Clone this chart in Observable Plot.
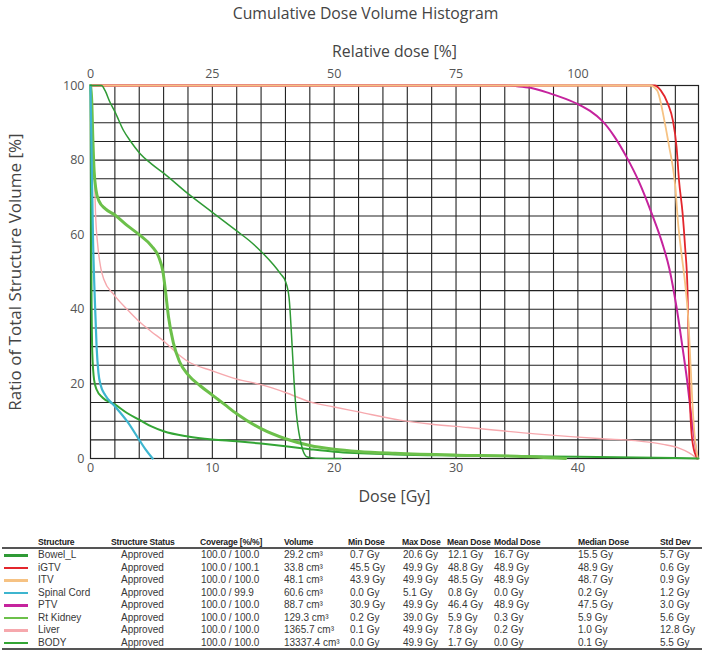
<!DOCTYPE html>
<html>
<head>
<meta charset="utf-8">
<script src="https://cdn.jsdelivr.net/npm/d3@7"></script>
<script src="https://cdn.jsdelivr.net/npm/@observablehq/plot@0.6"></script>
<style>
  html, body { margin: 0; padding: 0; background: #fff; }
  #wrap { position: relative; width: 712px; height: 651px; overflow: hidden; }
  #chart { position: absolute; left: 0; top: 0; }
  .cell { position: absolute; white-space: nowrap; font-family: "Liberation Sans", Arial, sans-serif; font-size: 10px; color: #383838; line-height: 12px; }
  .hdr { font-weight: bold; font-size: 8.6px; letter-spacing: -0.2px; color: #222; }
  .rule { position: absolute; left: 2px; width: 700px; height: 2px; background: #555; }
  .sw { position: absolute; left: 4px; width: 24px; height: 2.5px; }
</style>
</head>
<body>
<div id="wrap"><div id="chart"></div></div>
<script>
// ---------------- data ----------------
const chartTitle = "Cumulative Dose Volume Histogram";
const xLabel = "Dose [Gy]";
const topLabel = "Relative dose [%]";
const yLabel = "Ratio of Total Structure Volume [%]";

const doseTicks = [0, 10, 20, 30, 40];
const relTicks = [0, 25, 50, 75, 100];
const volTicks = [0, 20, 40, 60, 80, 100];
const prescriptionGy = 40;
const doseGrid = [2, 4, 6, 8, 10, 12, 14, 16, 18, 20, 22, 24, 26, 28, 30, 32, 34, 36, 38, 40, 42, 44, 46, 48];
const volGrid = [5, 10, 15, 20, 25, 30, 35, 40, 45, 50, 55, 60, 65, 70, 75, 80, 85, 90, 95];

// DVH curves: [dose Gy, volume %]
const bowelL = [[0,100],[0.9,100],[1.2,98.6],[1.6,95.5],[2,93],[2.7,88],[3.3,85],[4,82],[5,79],[6,76.5],[8,71],[10,66],[12,61],[13,58.5],[14,55.5],[15,52],[15.6,49.5],[16,47.5],[16.3,43],[16.5,33],[16.7,21],[16.9,12],[17.1,7],[17.4,2.5],[17.8,0.4],[18.5,0.1],[20.6,0]];
const iGTV = [[0,100],[46.3,100],[46.8,98.7],[47.4,95],[47.8,90.6],[48.1,83.5],[48.3,74.6],[48.6,65.6],[48.8,56.7],[49.0,45],[49.1,28],[49.25,11],[49.45,3.5],[49.8,0]];
const ITV = [[0,100],[45.9,100],[46.5,98.7],[47.1,90.6],[47.5,83.5],[47.8,78],[48,72.8],[48.2,64],[48.5,55],[48.8,47],[49.05,38],[49.25,25],[49.45,12],[49.65,4],[49.85,0]];
const spinalCord = [[0,100],[0.1,80],[0.2,60],[0.35,43],[0.5,30],[0.65,23],[0.85,19.5],[1.2,17],[2,14],[3,10],[4,5],[4.5,2.5],[5.1,0]];
const PTV = [[0,100],[34,100],[35,99.8],[36.1,99.4],[37.7,97.9],[39,96.4],[40,95],[41,93.2],[42,90.5],[43,86.3],[44,80.8],[45,74.3],[46,66.2],[46.9,58],[47.5,51],[48.1,40.5],[48.6,29.5],[49,20],[49.3,11.5],[49.6,4.5],[49.8,0]];
const rtKidney = [[0,100],[0.1,96],[0.2,85],[0.3,77],[0.45,72],[0.7,69],[1.2,67],[2,65.3],[3,62.5],[4,60],[5,57],[5.6,54],[5.95,50],[6.15,45],[6.4,38],[6.8,31],[7.3,26],[8,22.5],[9,19.5],[10,17],[11,14.5],[12,12],[14,8],[16,5.3],[18,3.5],[20,2.5],[22,1.9],[25,1.4],[30,0.9],[35,0.6],[39,0]];
const liver = [[0,100],[0.1,92],[0.2,84],[0.33,75],[0.41,66],[0.6,57],[0.85,51],[1.1,48],[1.9,44],[3,40],[4,36.7],[5,34],[6,31.5],[7,28.5],[8,26],[10,23.5],[12,21.3],[14,19.8],[16,17.7],[18,15.2],[20,13.8],[22,12.5],[25.4,10.3],[28,9.2],[31,8.3],[36.5,6.6],[42,5.3],[44.7,4.8],[47,3.8],[48.3,2.8],[49.1,1.6],[49.8,0]];
const body = [[0,100],[0.04,70],[0.08,45],[0.15,28],[0.3,21],[0.5,18.5],[1,16.3],[2,14.5],[3,12.2],[4,10.4],[5,8.6],[6,7.3],[8,5.9],[10,5.1],[12,4.6],[14,4],[16,3.3],[18,2.5],[20,1.8],[25,1.1],[30,0.8],[40,0.5],[49.9,0]];

// table
const structures = ["Bowel_L", "iGTV", "ITV", "Spinal Cord", "PTV", "Rt Kidney", "Liver", "BODY"];
const colors = ["#2f9a35", "#e3262c", "#f6c283", "#3db5cf", "#c5239d", "#6cc04a", "#f6a8ad", "#33a535"];
const status = ["Approved", "Approved", "Approved", "Approved", "Approved", "Approved", "Approved", "Approved"];
const coverage = ["100.0 / 100.0", "100.0 / 100.1", "100.0 / 100.0", "100.0 / 99.9", "100.0 / 100.0", "100.0 / 100.0", "100.0 / 100.0", "100.0 / 100.0"];
const volume = ["29.2 cm³", "33.8 cm³", "48.1 cm³", "60.6 cm³", "88.7 cm³", "129.3 cm³", "1365.7 cm³", "13337.4 cm³"];
const minDose = ["0.7 Gy", "45.5 Gy", "43.9 Gy", "0.0 Gy", "30.9 Gy", "0.2 Gy", "0.1 Gy", "0.0 Gy"];
const maxDose = ["20.6 Gy", "49.9 Gy", "49.9 Gy", "5.1 Gy", "49.9 Gy", "39.0 Gy", "49.9 Gy", "49.9 Gy"];
const meanDose = ["12.1 Gy", "48.8 Gy", "48.5 Gy", "0.8 Gy", "46.4 Gy", "5.9 Gy", "7.8 Gy", "1.7 Gy"];
const modalDose = ["16.7 Gy", "48.9 Gy", "48.9 Gy", "0.0 Gy", "48.9 Gy", "0.3 Gy", "0.2 Gy", "0.0 Gy"];
const medianDose = ["15.5 Gy", "48.9 Gy", "48.7 Gy", "0.2 Gy", "47.5 Gy", "5.9 Gy", "1.0 Gy", "0.1 Gy"];
const stdDev = ["5.7 Gy", "0.6 Gy", "0.9 Gy", "1.2 Gy", "3.0 Gy", "5.6 Gy", "12.8 Gy", "5.5 Gy"];
const headers = ["Structure", "Structure Status", "Coverage [%/%]", "Volume", "Min Dose", "Max Dose", "Mean Dose", "Modal Dose", "Median Dose", "Std Dev"];

// ---------------- chart ----------------
const curveSets = [
  {data: liver, color: colors[6], w: 1.4},
  {data: PTV, color: colors[4], w: 2},
  {data: iGTV, color: colors[1], w: 1.8},
  {data: ITV, color: colors[2], w: 1.8},
  {data: body, color: colors[7], w: 2},
  {data: rtKidney, color: colors[5], w: 3},
  {data: spinalCord, color: colors[3], w: 2.2},
  {data: bowelL, color: colors[0], w: 1.5}
];

const chart = Plot.plot({
  width: 712,
  height: 520,
  marginTop: 85,
  marginLeft: 90,
  marginRight: 14,
  marginBottom: 62,
  style: {fontFamily: "'Open Sans', sans-serif", fontSize: "12.5px", color: "#4a4a4a", background: "#fff"},
  x: {domain: [0, 49.9], label: null},
  y: {domain: [0, 100], label: null},
  marks: [
    Plot.gridX(doseGrid, {stroke: "#222", strokeOpacity: 1, strokeWidth: 1.1}),
    Plot.gridY(volGrid, {stroke: "#222", strokeOpacity: 1, strokeWidth: 1.1}),
    Plot.frame({stroke: "#222", strokeWidth: 1.2}),
    Plot.axisX(doseTicks, {anchor: "bottom", tickSize: 0, tickPadding: 5, label: null, fill: "#555"}),
    Plot.axisX(relTicks.map(r => r * prescriptionGy / 100), {anchor: "top", tickSize: 0, tickPadding: 8, label: null, fill: "#555",
      tickFormat: d => String(Math.round(d / prescriptionGy * 100))}),
    Plot.axisY(volTicks, {anchor: "left", tickSize: 0, tickPadding: 6, label: null, fill: "#555"}),
    ...curveSets.map(c => Plot.line(c.data, {x: d => d[0], y: d => d[1], stroke: c.color, strokeWidth: c.w, curve: "monotone-x"})),
    Plot.text([chartTitle], {text: d => d, frameAnchor: "top", lineAnchor: "middle", textAnchor: "middle", dx: -29, dy: -72, fontSize: 15.8, fill: "#444"}),
    Plot.text([topLabel], {text: d => d, frameAnchor: "top", lineAnchor: "middle", textAnchor: "middle", dy: -34, fontSize: 15.8, fill: "#444"}),
    Plot.text([xLabel], {text: d => d, frameAnchor: "bottom", lineAnchor: "middle", textAnchor: "middle", dy: 38, fontSize: 16, fill: "#444"}),
    Plot.text([yLabel], {text: d => d, frameAnchor: "left", lineAnchor: "middle", textAnchor: "middle", dx: -75, rotate: -90, fontSize: 17, fill: "#444"})
  ]
});
document.getElementById("chart").appendChild(chart);

// ---------------- table ----------------
const wrap = document.getElementById("wrap");
const hdrX = [38, 111, 200, 284, 348, 402, 447, 494, 578, 660];
const colX = [38, 121, 201, 284, 350, 403, 448, 494, 578, 660];
const headerY = 542;
const rowY0 = 555, rowStep = 12.5;
function addCell(text, x, y, cls) {
  const d = document.createElement("div");
  d.className = "cell" + (cls ? " " + cls : "");
  d.textContent = text;
  d.style.left = x + "px";
  d.style.top = (y - 6) + "px";
  wrap.appendChild(d);
}
headers.forEach((h, i) => addCell(h, hdrX[i], headerY, "hdr"));
const r1 = document.createElement("div"); r1.className = "rule"; r1.style.top = "547px"; wrap.appendChild(r1);
const cols = [structures, status, coverage, volume, minDose, maxDose, meanDose, modalDose, medianDose, stdDev];
structures.forEach((s, r) => {
  const y = rowY0 + r * rowStep;
  const sw = document.createElement("div");
  sw.className = "sw"; sw.style.background = colors[r]; sw.style.top = (y - 1) + "px";
  wrap.appendChild(sw);
  cols.forEach((col, c) => addCell(col[r], colX[c], y));
});
const r2 = document.createElement("div"); r2.className = "rule"; r2.style.top = "648px"; wrap.appendChild(r2);
</script>
</body>
</html>
